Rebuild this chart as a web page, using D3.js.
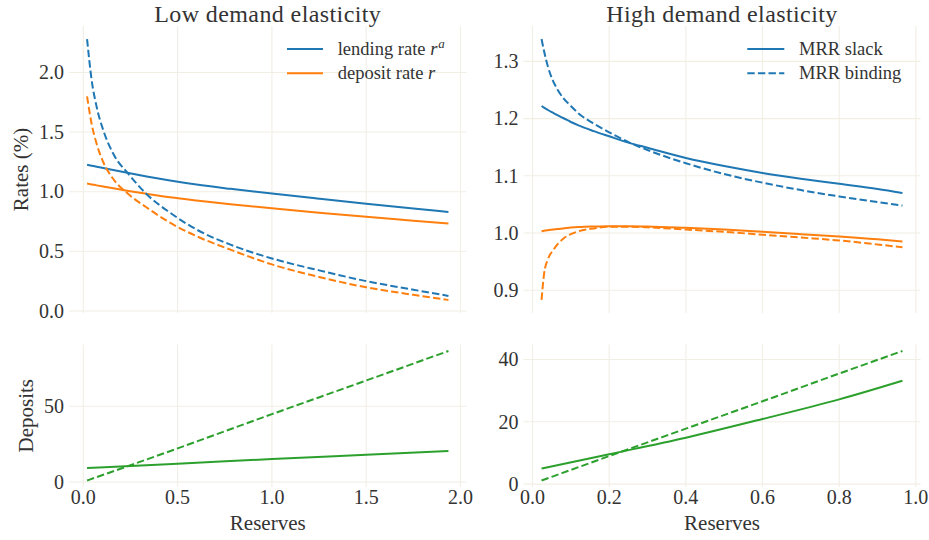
<!DOCTYPE html>
<html><head><meta charset="utf-8">
<script src="https://cdn.jsdelivr.net/npm/d3@7"></script>
<style>
body{margin:0;background:#fff}
text{font-family:"Liberation Serif","Times New Roman",serif;fill:#333}
</style>
</head><body><svg id="c" width="929" height="540"></svg>
<script>
// ---------- data ----------
const titles = ["Low demand elasticity", "High demand elasticity"];
const xLabel = "Reserves";
const yLabelRates = "Rates (%)";
const yLabelDeposits = "Deposits";

// Low demand elasticity (left)
const lowX        = [0.02, 0.044, 0.071, 0.106, 0.159, 0.24, 0.336, 0.46, 0.6, 0.78, 1.0, 1.25, 1.5, 1.75, 1.936];
const lowLendSlack= [1.226, 1.218, 1.209, 1.198, 1.181, 1.156, 1.128, 1.094, 1.060, 1.024, 0.984, 0.941, 0.899, 0.859, 0.830];
const lowDepSlack = [1.068, 1.061, 1.053, 1.043, 1.028, 1.006, 0.982, 0.953, 0.926, 0.895, 0.862, 0.824, 0.789, 0.757, 0.733];
const lowLendBind = [2.28, 1.94, 1.71, 1.515, 1.318, 1.148, 0.979, 0.824, 0.683, 0.556, 0.44, 0.34, 0.25, 0.178, 0.126];
const lowDepBind  = [1.80, 1.57, 1.40, 1.247, 1.106, 0.978, 0.867, 0.74, 0.627, 0.514, 0.39, 0.285, 0.198, 0.135, 0.092];
const lowDX       = [0.02, 0.5, 1.0, 1.5, 1.936];
const lowDepositsSlack = [9.3, 12.1, 15.2, 18.0, 20.5];
const lowDepositsBind  = [1.0, 22.2, 44.8, 67.0, 86.5];

// High demand elasticity (right)
const highX        = [0.0235, 0.03, 0.04, 0.054, 0.065, 0.08, 0.1, 0.12, 0.16, 0.2, 0.25, 0.3, 0.4, 0.5, 0.6, 0.7, 0.8, 0.9, 0.965];
const highLendSlack= [1.222, 1.219, 1.215, 1.210, 1.206, 1.201, 1.194, 1.188, 1.178, 1.169, 1.158, 1.149, 1.131, 1.117, 1.105, 1.095, 1.086, 1.077, 1.070];
const highDepSlack = [1.003, 1.004, 1.005, 1.006, 1.007, 1.008, 1.0095, 1.0105, 1.0115, 1.012, 1.012, 1.0115, 1.009, 1.006, 1.002, 0.998, 0.994, 0.989, 0.985];
const highLendBind = [1.339, 1.318, 1.291, 1.265, 1.251, 1.236, 1.222, 1.209, 1.191, 1.176, 1.159, 1.145, 1.122, 1.103, 1.088, 1.075, 1.064, 1.054, 1.048];
const highDepBind  = [0.883, 0.928, 0.954, 0.970, 0.980, 0.990, 0.998, 1.003, 1.008, 1.011, 1.011, 1.010, 1.006, 1.002, 0.997, 0.992, 0.987, 0.980, 0.975];
const highDX       = [0.0235, 0.2, 0.4, 0.6, 0.8, 0.965];
const highDepositsSlack = [5.0, 9.6, 14.9, 20.9, 27.2, 33.2];
const highDepositsBind  = [1.15, 9.0, 17.8, 26.6, 35.5, 42.75];

const lowXTicks  = [0, 0.5, 1.0, 1.5, 2.0];
const highXTicks = [0, 0.2, 0.4, 0.6, 0.8, 1.0];
const lowRateTicks  = [0, 0.5, 1.0, 1.5, 2.0];
const highRateTicks = [0.9, 1.0, 1.1, 1.2, 1.3];
const lowDepTicks  = [0, 50];
const highDepTicks = [0, 20, 40];

const legendLow  = [{label: "lending rate ", math: "r", sup: "a", color: "#1f77b4", dash: false},
                    {label: "deposit rate ", math: "r", sup: "", color: "#ff7f0e", dash: false}];
const legendHigh = [{label: "MRR slack", color: "#1f77b4", dash: false},
                    {label: "MRR binding", color: "#1f77b4", dash: true}];

// ---------- layout ----------
const BLUE = "#1f77b4", ORANGE = "#ff7f0e", GREEN = "#2ca02c";
const GRID = "#f1eee4";
const DASH = "7.4,3.2";
const COLS = {left: [69, 466.5], right: [523.5, 920.5]};
const ROWS = {top: [26, 313], bottom: [344.5, 487]};

const svg = d3.select("#c");

function padded(arrs) {
  const all = arrs.flat();
  const [a, b] = d3.extent(all);
  const r = b - a;
  return [a - 0.05 * r, b + 0.05 * r];
}

function panel(col, row, xs, series, xTicks, yTicks, yFmt, showX) {
  const [x0, x1] = COLS[col], [y0, y1] = ROWS[row];
  const xScale = d3.scaleLinear().domain(padded(xs)).range([x0, x1]);
  const yScale = d3.scaleLinear().domain(padded(series.map(s => s.y))).range([y1, y0]);
  const g = svg.append("g");
  // grid
  g.append("g").selectAll("line").data(xTicks).join("line")
    .attr("x1", d => xScale(d)).attr("x2", d => xScale(d))
    .attr("y1", y0).attr("y2", y1)
    .attr("stroke", GRID).attr("stroke-width", 1.1);
  g.append("g").selectAll("line").data(yTicks).join("line")
    .attr("y1", d => yScale(d)).attr("y2", d => yScale(d))
    .attr("x1", x0).attr("x2", x1)
    .attr("stroke", GRID).attr("stroke-width", 1.1);
  // y tick labels
  g.append("g").selectAll("text").data(yTicks).join("text")
    .attr("x", x0 - 5).attr("y", d => yScale(d)).attr("dy", "0.34em")
    .attr("text-anchor", "end").attr("font-size", 20)
    .text(d => d3.format(yFmt)(d));
  if (showX) {
    g.append("g").selectAll("text").data(xTicks).join("text")
      .attr("x", d => xScale(d)).attr("y", 503.5)
      .attr("text-anchor", "middle").attr("font-size", 20)
      .text(d => d3.format(".1f")(d));
  }
  // lines
  series.forEach(s => {
    const line = d3.line().x((d, i) => xScale(s.x[i])).y(d => yScale(d)).curve(d3.curveMonotoneX);
    g.append("path").datum(s.y).attr("d", line)
      .attr("fill", "none").attr("stroke", s.color).attr("stroke-width", 2)
      .attr("stroke-dasharray", s.dash ? DASH : null);
  });
  return {xScale, yScale, cx: (x0 + x1) / 2, cy: (y0 + y1) / 2};
}

const pTL = panel("left", "top", [lowX], [
  {x: lowX, y: lowLendSlack, color: BLUE, dash: false},
  {x: lowX, y: lowDepSlack, color: ORANGE, dash: false},
  {x: lowX, y: lowLendBind, color: BLUE, dash: true},
  {x: lowX, y: lowDepBind, color: ORANGE, dash: true}
], lowXTicks, lowRateTicks, ".1f", false);

const pTR = panel("right", "top", [highX], [
  {x: highX, y: highLendSlack, color: BLUE, dash: false},
  {x: highX, y: highDepSlack, color: ORANGE, dash: false},
  {x: highX, y: highLendBind, color: BLUE, dash: true},
  {x: highX, y: highDepBind, color: ORANGE, dash: true}
], highXTicks, highRateTicks, ".1f", false);

const pBL = panel("left", "bottom", [lowDX], [
  {x: lowDX, y: lowDepositsSlack, color: GREEN, dash: false},
  {x: lowDX, y: lowDepositsBind, color: GREEN, dash: true}
], lowXTicks, lowDepTicks, "d", true);

const pBR = panel("right", "bottom", [highDX], [
  {x: highDX, y: highDepositsSlack, color: GREEN, dash: false},
  {x: highDX, y: highDepositsBind, color: GREEN, dash: true}
], highXTicks, highDepTicks, "d", true);

// titles
[pTL, pTR].forEach((p, i) => {
  svg.append("text").attr("x", p.cx).attr("y", 21.5).attr("text-anchor", "middle")
    .attr("font-size", 24).attr("letter-spacing", 0.4).text(titles[i]);
});
// x labels
[pBL, pBR].forEach(p => {
  svg.append("text").attr("x", p.cx).attr("y", 530).attr("text-anchor", "middle")
    .attr("font-size", 21).text(xLabel);
});
// y labels
svg.append("text").attr("transform", `translate(28,${pTL.cy}) rotate(-90)`)
  .attr("text-anchor", "middle").attr("font-size", 21).text(yLabelRates);
svg.append("text").attr("transform", `translate(33,${pBL.cy}) rotate(-90)`)
  .attr("text-anchor", "middle").attr("font-size", 21).text(yLabelDeposits);

// legends
function legend(items, lx0, lx1, tx, y0, dy) {
  items.forEach((it, i) => {
    const y = y0 + i * dy;
    svg.append("line").attr("x1", lx0).attr("x2", lx1).attr("y1", y).attr("y2", y)
      .attr("stroke", it.color).attr("stroke-width", 2)
      .attr("stroke-dasharray", it.dash ? DASH : null);
    const t = svg.append("text").attr("x", tx).attr("y", y + 6).attr("font-size", 18.5);
    t.append("tspan").text(it.label);
    if (it.math) t.append("tspan").attr("font-style", "italic").text(it.math);
    if (it.sup) t.append("tspan").attr("font-style", "italic").attr("font-size", 13)
      .attr("dy", -7).attr("dx", 1).text(it.sup);
  });
}
legend(legendLow, 287, 323, 337.7, 49, 24.3);
legend(legendHigh, 747.3, 784.3, 799, 49, 24.3);
</script>
</body></html>
